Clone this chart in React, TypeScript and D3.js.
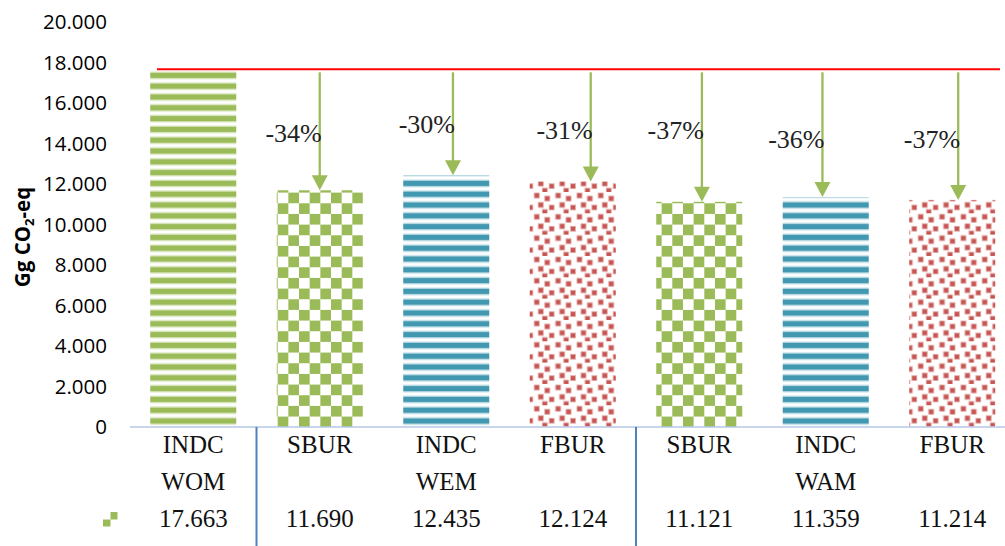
import { useEffect, useRef } from "react";
import * as d3 from "d3";

// categories (row 1 of the data table) and scenario groups (row 2)
const categories = ["INDC", "SBUR", "INDC", "FBUR", "SBUR", "INDC", "FBUR"];
const scenarios = ["WOM", "", "WEM", "", "", "WAM", ""];
// emissions, Gg CO2-eq
const values = [17663, 11690, 12435, 12124, 11121, 11359, 11214];
const fills = ["stripeGreen", "checkGreen", "stripeTeal", "confettiRed", "checkGreen", "stripeTeal", "confettiRed"];
// reduction vs. INDC WOM, and where the label baseline sits (in value units)
const reductions = ["", "-34%", "-30%", "-31%", "-37%", "-36%", "-37%"];
const labelLevels = [0, 14070, 14520, 14220, 14210, 13780, 13780];
// hand-drawn arrows are slightly off-centre (fraction of band)
const arrowShift = [0, 0, 0.053, 0.142, 0.021, -0.026, 0.047];
const groupBreaks = [0, 3];
const yTicks = d3.range(0, 20001, 2000);

const GREEN = "#9bbb59";
const TEAL = "#4298b0";
const RED = "#c65450";

export default function App() {
  const svgRef = useRef<SVGSVGElement | null>(null);
  const width = 1005;
  const height = 546;

  useEffect(() => {
    document.body.style.margin = "0";
    const svg = d3.select(svgRef.current);
    svg.selectAll("*").remove();
    svg.attr("width", width).attr("height", height);

    const x = d3.scaleBand<number>()
      .domain(d3.range(values.length))
      .range([130, 1015.5])
      .paddingInner(0.32)
      .paddingOuter(0.16);
    const y = d3.scaleLinear().domain([0, 20000]).range([427, 22]);

    // ---- patterns
    const defs = svg.append("defs");
    const stripe = (id: string, c: string, light: string) => {
      const p = defs.append("pattern").attr("id", id)
        .attr("patternUnits", "userSpaceOnUse")
        .attr("width", 20).attr("height", 10.8).attr("y", 199.6);
      p.append("rect").attr("x", 0).attr("y", 1.6).attr("width", 20).attr("height", 7.6).attr("fill", light);
      p.append("rect").attr("x", 0).attr("y", 2.9).attr("width", 20).attr("height", 5).attr("fill", c);
    };
    stripe("stripeGreen", GREEN, "#d3e2b4");
    stripe("stripeTeal", TEAL, "#b3d7e1");

    const chk = defs.append("pattern").attr("id", "checkGreen")
      .attr("patternUnits", "userSpaceOnUse")
      .attr("width", 21.33).attr("height", 21.33).attr("x", 0.4).attr("y", 11.3);
    chk.append("rect").attr("x", 0).attr("y", 0).attr("width", 10.67).attr("height", 10.67).attr("fill", GREEN);
    chk.append("rect").attr("x", 10.67).attr("y", 10.67).attr("width", 10.67).attr("height", 10.67).attr("fill", GREEN);

    const conf = defs.append("pattern").attr("id", "confettiRed")
      .attr("patternUnits", "userSpaceOnUse")
      .attr("width", 21.33).attr("height", 21.33);
    [[1, 1], [11.5, 4], [5, 10.5], [16, 13], [9, 17.5]].forEach(([cx, cy]) => {
      conf.append("rect").attr("x", cx).attr("y", cy).attr("width", 5).attr("height", 5)
        .attr("fill", RED).attr("stroke", "#e3aaa8").attr("stroke-width", 0.8);
    });

    // ---- y axis labels
    const sans = "'Open Sans', 'Noto Sans', sans-serif";
    const serif = "Liberation Serif, DejaVu Serif, serif";
    svg.append("g").selectAll("text").data(yTicks).join("text")
      .attr("x", 107).attr("y", d => y(d)).attr("dy", "0.36em")
      .attr("text-anchor", "end")
      .attr("font-family", sans).attr("font-size", 20.5).attr("fill", "#000")
      .text(d => (d === 0 ? "0" : (d / 1000).toFixed(3)));

    const title = svg.append("text")
      .attr("transform", "translate(30,237) rotate(-90)")
      .attr("text-anchor", "middle")
      .attr("font-family", sans).attr("font-weight", "bold").attr("font-size", 20.5);
    title.append("tspan").text("Gg CO");
    title.append("tspan").attr("font-size", 13).attr("dy", 4).text("2");
    title.append("tspan").attr("dy", -4).text("-eq");

    // ---- bars
    svg.append("g").selectAll("rect").data(values).join("rect")
      .attr("x", (_, i) => x(i)!)
      .attr("y", d => y(d))
      .attr("width", x.bandwidth())
      .attr("height", d => y(0) - y(d))
      .attr("fill", (_, i) => `url(#${fills[i]})`);

    // ---- baseline reference line (INDC WOM)
    svg.append("line")
      .attr("x1", 157).attr("x2", 1000)
      .attr("y1", y(values[0])).attr("y2", y(values[0]))
      .attr("stroke", "#ff0000").attr("stroke-width", 2);

    // ---- arrows + reduction labels
    const ann = svg.append("g");
    values.forEach((v, i) => {
      if (!reductions[i]) return;
      const ax = x(i)! + x.bandwidth() / 2 + arrowShift[i] * x.step();
      const top = y(v);
      ann.append("line")
        .attr("x1", ax).attr("x2", ax)
        .attr("y1", y(values[0]) + 3).attr("y2", top - 13)
        .attr("stroke", GREEN).attr("stroke-width", 2.3);
      ann.append("path")
        .attr("d", `M${ax - 8},${top - 15}L${ax + 8},${top - 15}L${ax},${top}Z`)
        .attr("fill", GREEN);
      ann.append("text")
        .attr("x", ax + 2).attr("y", y(labelLevels[i]))
        .attr("text-anchor", "end")
        .attr("font-family", serif).attr("font-size", 26).attr("fill", "#222")
        .text(reductions[i]);
    });

    // ---- data table under the axis
    svg.append("line")
      .attr("x1", 130).attr("x2", width).attr("y1", y(0)).attr("y2", y(0))
      .attr("stroke", "#b4c7e7").attr("stroke-width", 1.5);
    svg.append("g").selectAll("line").data(groupBreaks).join("line")
      .attr("x1", d => x(d)! + x.bandwidth() + x.step() * x.paddingInner() / 2)
      .attr("x2", d => x(d)! + x.bandwidth() + x.step() * x.paddingInner() / 2)
      .attr("y1", y(0)).attr("y2", height)
      .attr("stroke", "#4f81bd").attr("stroke-width", 2);

    const table = svg.append("g").attr("font-family", serif).attr("font-size", 25)
      .attr("fill", "#111").attr("text-anchor", "middle");
    const cx = (i: number) => x(i)! + x.bandwidth() / 2;
    table.selectAll(".cat").data(categories).join("text").attr("class", "cat")
      .attr("x", (_, i) => cx(i)).attr("y", 453).text(d => d);
    table.selectAll(".scn").data(scenarios).join("text").attr("class", "scn")
      .attr("x", (_, i) => cx(i)).attr("y", 490).text(d => d);
    table.selectAll(".val").data(values).join("text").attr("class", "val")
      .attr("x", (_, i) => cx(i)).attr("y", 527).text(d => (d / 1000).toFixed(3));

    // legend key in the table
    const key = svg.append("g").attr("fill", GREEN);
    key.append("rect").attr("x", 103).attr("y", 519.5).attr("width", 7.5).attr("height", 7);
    key.append("rect").attr("x", 110.5).attr("y", 512).attr("width", 7).attr("height", 7.5);
  }, []);

  return (
    <div>
      <svg ref={svgRef}></svg>
    </div>
  );
}
